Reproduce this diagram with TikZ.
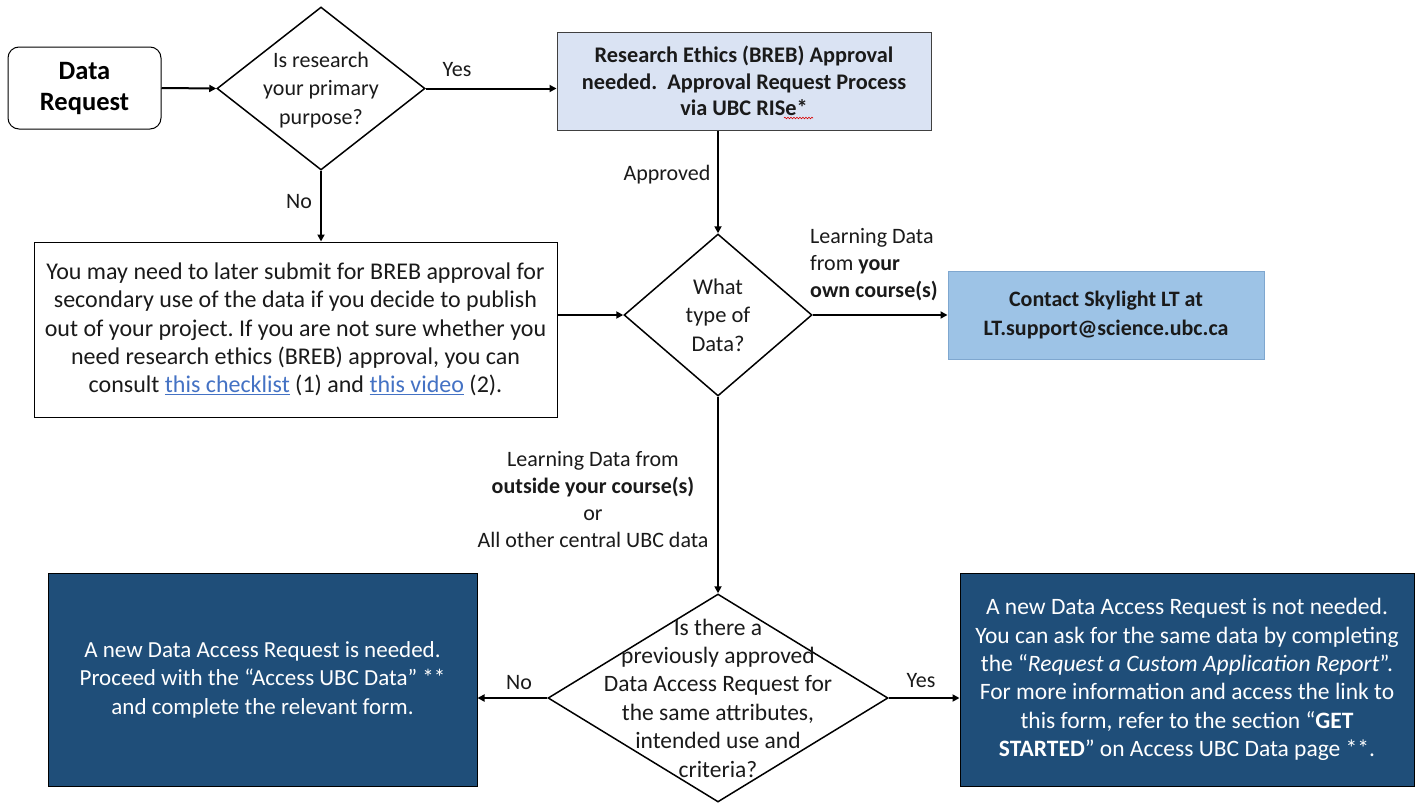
\documentclass[tikz,border=0pt]{standalone}
\usepackage{fontspec}
\setmainfont{Carlito}
\usetikzlibrary{shapes.geometric,arrows.meta,decorations.pathmorphing}
\definecolor{lightbox}{HTML}{DAE3F3}
\definecolor{midbox}{HTML}{9DC3E6}
\definecolor{midedge}{HTML}{7FA7CF}
\definecolor{darkbox}{HTML}{1F4E79}
\definecolor{linkblue}{HTML}{4472C4}
\definecolor{txt}{HTML}{1A1A1A}
\newcommand{\fs}[2]{\fontsize{#1}{#2}\selectfont}
\newcommand{\lnk}[1]{{\color{linkblue}\underline{#1}}}
\frenchspacing
\begin{document}
\begin{tikzpicture}[x=1pt,y=-1pt,
  conn/.style={line width=2pt,-{Triangle[length=7pt,width=7pt]}},
  decision/.style={draw,line width=1.5pt,shape=diamond,inner sep=0pt},
  boxtxt/.style={align=center,text=txt},
  lbl/.style={align=center,text=txt,font=\fs{22}{27},inner sep=0pt}
]
\useasboundingbox[fill=white] (0,0) rectangle (1421,803);

% nodes
\node[draw,rounded corners=11pt,line width=1pt,minimum width=153pt,minimum height=82pt,
      align=center,font=\fs{26.5}{31}\bfseries] (req) at (84.5,88) {Data\\Request};

\node[decision,minimum width=208pt,minimum height=163pt] (d1) at (321,88.5) {};
\node[lbl,font=\fs{22}{28.5}] (d1t) at (321,90) {Is research\\your primary\\purpose?};

\node[draw=black!75,fill=lightbox,line width=1pt,minimum width=374pt,minimum height=98pt,
      boxtxt,font=\fs{22.3}{26.5}\bfseries] (breb) at (744,81)
      {Research Ethics (BREB) Approval\\needed.\ \ Approval Request Process\\via UBC RISe*};

\node[draw,line width=1pt,minimum width=523pt,minimum height=175pt,boxtxt,font=\fs{24}{28.3}] (note) at (295.5,329.5)
 {You may need to later submit for BREB approval for\\
  secondary use of the data if you decide to publish\\
  out of your project. If you are not sure whether you\\
  need research ethics (BREB) approval, you can\\
  consult \lnk{this checklist} (1) and \lnk{this video} (2).};

\node[decision,minimum width=188pt,minimum height=162pt] (d2) at (718,315) {};
\node[lbl,font=\fs{22.5}{28.5}] (d2t) at (718,315) {What\\type of\\Data?};

\node[draw=midedge,fill=midbox,line width=1pt,minimum width=316pt,minimum height=88pt,
      boxtxt,font=\fs{22}{29}\bfseries] (contact) at (1106,315)
      {Contact Skylight LT at\\LT.support@science.ubc.ca};

\node[decision,minimum width=340pt,minimum height=208pt] (d3) at (718,698) {};
\node[lbl,font=\fs{23.5}{28.4}] (d3t) at (718,698) {Is there a\\previously approved\\Data Access Request for\\the same attributes,\\intended use and\\criteria?};

\node[draw=black,fill=darkbox,line width=1pt,minimum width=429pt,minimum height=213pt,
      align=center,text=white,font=\fs{23}{28.4}] (newreq) at (262.5,679.5)
 {A new Data Access Request is needed.\\
  Proceed with the ``Access UBC Data'' **\\
  and complete the relevant form.};

\node[draw=black,fill=darkbox,line width=1pt,minimum width=454pt,minimum height=213pt,
      align=center,text=white,font=\fs{23.5}{28.4}] (noreq) at (1187,679.5)
 {A new Data Access Request is not needed.\\
  You can ask for the same data by completing\\
  the ``\textit{Request a Custom Application Report}''.\\
  For more information and access the link to\\
  this form, refer to the section ``\textbf{GET}\\
  \textbf{STARTED}'' on Access UBC Data page **.};

% connectors
\draw[conn] (req.east) -- (d1.west);
\draw[conn] (d1.east) -- (d1.east -| breb.west);
\draw[conn] (d1.south) -- (d1.south |- note.north);
\draw[conn] (d2.north |- breb.south) -- (d2.north);
\draw[conn] (note.east |- d2.west) -- (d2.west);
\draw[conn] (d2.east) -- (d2.east -| contact.west);
\draw[conn] (d2.south) -- (d3.north);
\draw[conn] (d3.west) -- (d3.west -| newreq.east);
\draw[conn] (d3.east) -- (d3.east -| noreq.west);

% labels
\node[lbl] (yes1) at (457,70) {Yes};
\node[lbl] (no1) at (299,202) {No};
\node[lbl] (appr) at (667,175) {Approved};
\node[lbl,align=left,anchor=west] (own) at (810,265)
  {Learning Data\\from \textbf{your}\\\textbf{own course(s)}};
\node[lbl] (outside) at (593,500)
  {Learning Data from\\\textbf{outside your course(s)}\\or\\All other central UBC data};
\node[lbl] (no2) at (519,683) {No};
\node[lbl] (yes2) at (921,681) {Yes};

% spell-check squiggle under RISe
\coordinate (sqA) at (784,118);
\coordinate (sqB) at (813,118);
\draw[red!85!black,line width=0.6pt,decorate,decoration={snake,amplitude=0.8pt,segment length=3pt}] (sqA) -- (sqB);
\end{tikzpicture}
\end{document}
